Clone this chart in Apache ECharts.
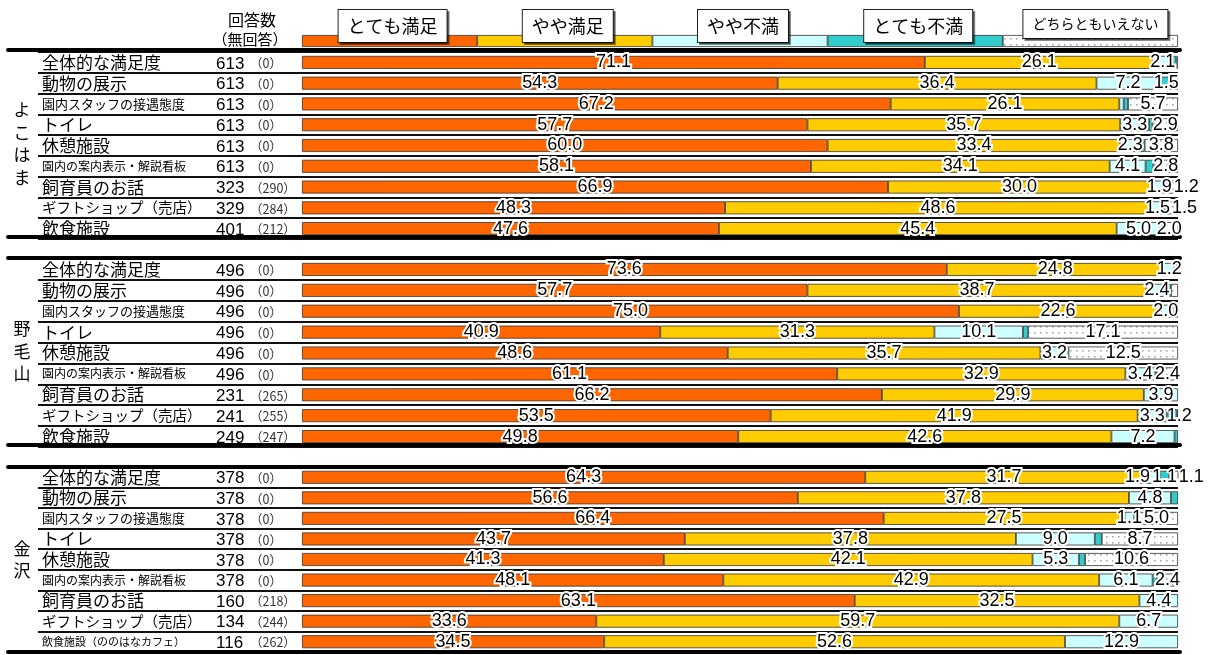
<!DOCTYPE html>
<html><head><meta charset="utf-8">
<script src="https://cdn.jsdelivr.net/npm/echarts@6/dist/echarts.min.js"></script>
<style>html,body{margin:0;padding:0;background:#fff}#c{width:1214px;height:655px}</style>
</head><body><div id="c"></div>
<script>
// ---------- DATA ----------
const seriesNames = ['とても満足', 'やや満足', 'やや不満', 'とても不満', 'どちらともいえない'];
const legendShares = [20, 20, 20, 20, 20];
const groupNames = ['よこはま', '野毛山', '金沢'];
const headerLines = ['回答数', '（無回答）'];

const itemsYokohama = ['全体的な満足度', '動物の展示', '園内スタッフの接遇態度', 'トイレ', '休憩施設', '園内の案内表示・解説看板', '飼育員のお話', 'ギフトショップ（売店）', '飲食施設'];
const itemsNogeyama = ['全体的な満足度', '動物の展示', '園内スタッフの接遇態度', 'トイレ', '休憩施設', '園内の案内表示・解説看板', '飼育員のお話', 'ギフトショップ（売店）', '飲食施設'];
const itemsKanazawa = ['全体的な満足度', '動物の展示', '園内スタッフの接遇態度', 'トイレ', '休憩施設', '園内の案内表示・解説看板', '飼育員のお話', 'ギフトショップ（売店）', '飲食施設（ののはなカフェ）'];

const countsYokohama = [613, 613, 613, 613, 613, 613, 323, 329, 401];
const noAnswerYokohama = [0, 0, 0, 0, 0, 0, 290, 284, 212];
const countsNogeyama = [496, 496, 496, 496, 496, 496, 231, 241, 249];
const noAnswerNogeyama = [0, 0, 0, 0, 0, 0, 265, 255, 247];
const countsKanazawa = [378, 378, 378, 378, 378, 378, 160, 134, 116];
const noAnswerKanazawa = [0, 0, 0, 0, 0, 0, 218, 244, 262];

const verySatisfiedYokohama = [71.1, 54.3, 67.2, 57.7, 60.0, 58.1, 66.9, 48.3, 47.6];
const satisfiedYokohama     = [26.1, 36.4, 26.1, 35.7, 33.4, 34.1, 30.0, 48.6, 45.4];
const dissatisfiedYokohama  = [2.1, 7.2, 0.5, 3.3, 2.3, 4.1, 1.9, 1.5, 5.0];
const veryDissatYokohama    = [0.5, 1.5, 0.5, 0.4, 0.5, 0.9, 0, 0.1, 0];
const neitherYokohama       = [0.2, 0.6, 5.7, 2.9, 3.8, 2.8, 1.2, 1.5, 2.0];

const verySatisfiedNogeyama = [73.6, 57.7, 75.0, 40.9, 48.6, 61.1, 66.2, 53.5, 49.8];
const satisfiedNogeyama     = [24.8, 38.7, 22.6, 31.3, 35.7, 32.9, 29.9, 41.9, 42.6];
const dissatisfiedNogeyama  = [1.2, 2.4, 2.0, 10.1, 3.2, 3.4, 3.9, 3.3, 7.2];
const veryDissatNogeyama    = [0.2, 0.4, 0, 0.6, 0, 0.2, 0, 1.2, 0.4];
const neitherNogeyama       = [0.2, 0.8, 0.4, 17.1, 12.5, 2.4, 0, 0.1, 0];

const verySatisfiedKanazawa = [64.3, 56.6, 66.4, 43.7, 41.3, 48.1, 63.1, 33.6, 34.5];
const satisfiedKanazawa     = [31.7, 37.8, 27.5, 37.8, 42.1, 42.9, 32.5, 59.7, 52.6];
const dissatisfiedKanazawa  = [1.9, 4.8, 1.1, 9.0, 5.3, 6.1, 4.4, 6.7, 12.9];
const veryDissatKanazawa    = [1.1, 0.8, 0, 0.8, 0.7, 0.5, 0, 0, 0];
const neitherKanazawa       = [1.1, 0, 5.0, 8.7, 10.6, 2.4, 0, 0, 0];

// ---------- LAYOUT / STYLE ----------
const groups = [
  { name: groupNames[0], items: itemsYokohama, counts: countsYokohama, noAns: noAnswerYokohama,
    values: [verySatisfiedYokohama, satisfiedYokohama, dissatisfiedYokohama, veryDissatYokohama, neitherYokohama] },
  { name: groupNames[1], items: itemsNogeyama, counts: countsNogeyama, noAns: noAnswerNogeyama,
    values: [verySatisfiedNogeyama, satisfiedNogeyama, dissatisfiedNogeyama, veryDissatNogeyama, neitherNogeyama] },
  { name: groupNames[2], items: itemsKanazawa, counts: countsKanazawa, noAns: noAnswerKanazawa,
    values: [verySatisfiedKanazawa, satisfiedKanazawa, dissatisfiedKanazawa, veryDissatKanazawa, neitherKanazawa] }
];
const layout = [
  { top: 52, h: 187, lineTop: 50, lineH: 187 },
  { top: 259, h: 188, lineTop: 258, lineH: 187 },
  { top: 467, h: 185, lineTop: 467, lineH: 185 }
];
const PLOT_LEFT = 302, PLOT_W = 876, LABEL_LEFT = 38, OUTER_LEFT = 8, OUTER_RIGHT = 1180;
const CJK = '"Noto Sans CJK JP", sans-serif';
const NUM = '"Liberation Sans", Arial, sans-serif';
const LABEL_SIZE = 18;

const pc = document.createElement('canvas');
pc.width = 6; pc.height = 6;
const pg = pc.getContext('2d');
pg.fillStyle = '#ffffff'; pg.fillRect(0, 0, 6, 6);
pg.fillStyle = '#a8a8a8'; pg.fillRect(2, 2, 1.6, 1.6);
const colors = ['#FF6600', '#FFCC00', '#CCFFFF', '#33CCCC', { image: pc, repeat: 'repeat' }];

const nameStyleKey = {
  '園内スタッフの接遇態度': 's13',
  '園内の案内表示・解説看板': 's12',
  'ギフトショップ（売店）': 's14',
  '飲食施設（ののはなカフェ）': 's11'
};

const mctx = document.createElement('canvas').getContext('2d');
mctx.font = LABEL_SIZE + 'px ' + NUM;
function textW(t) { return mctx.measureText(t).width; }

// label de-overlap within a row (pixel offsets)
function rowOffsets(vals) {
  let cum = 0; const labs = [];
  vals.forEach((v, k) => {
    if (v >= 1) { const c = (cum + v / 2) / 100 * PLOT_W; labs.push({ k, nat: c, c, w: textW(v.toFixed(1)) }); }
    cum += v;
  });
  for (let i = 1; i < labs.length; i++) {
    const m = labs[i - 1].c + (labs[i - 1].w + labs[i].w) / 2 + 2;
    if (labs[i].c < m) labs[i].c = m;
  }
  for (let i = labs.length - 1; i >= 0; i--) {
    const lim = i === labs.length - 1 ? (1204 - PLOT_LEFT) - labs[i].w / 2
      : labs[i + 1].c - (labs[i].w + labs[i + 1].w) / 2 - 2;
    if (labs[i].c > lim) labs[i].c = lim;
  }
  const off = [0, 0, 0, 0, 0];
  labs.forEach(l => { off[l.k] = l.c - l.nat; });
  return off;
}

const grid = [], xAxis = [], yAxis = [], series = [], graphic = [];

// legend strip grid (index 0)
grid.push({ left: PLOT_LEFT, width: PLOT_W, top: 35, height: 12 });
xAxis.push({ gridIndex: 0, type: 'value', min: 0, max: 100, show: false });
yAxis.push({ gridIndex: 0, type: 'category', data: ['凡例'], show: false });
seriesNames.forEach((nm, k) => {
  const small = nm.length > 6;
  series.push({
    name: nm, type: 'bar', xAxisIndex: 0, yAxisIndex: 0, stack: 'legend', barWidth: 12,
    itemStyle: { color: colors[k], borderColor: '#333', borderWidth: 0.8 },
    label: {
      show: true, position: 'inside', formatter: nm, offset: [small ? 5 : 3, small ? -17 : -15],
      fontFamily: CJK, fontSize: small ? 14 : 18, lineHeight: small ? 20 : 24, color: '#000',
      backgroundColor: '#fff', borderColor: '#222', borderWidth: 1, padding: [4, 9],
      shadowColor: 'rgba(0,0,0,0.45)', shadowOffsetX: 2, shadowOffsetY: 2, shadowBlur: 0
    },
    data: [legendShares[k]], silent: true
  });
});

groups.forEach((g, gi) => {
  const L = layout[gi];
  const bi = 1 + gi, li = 4 + gi, oi = 7 + gi;
  grid[bi] = { left: PLOT_LEFT, width: PLOT_W, top: L.top, height: L.h };
  grid[li] = { left: LABEL_LEFT, width: PLOT_LEFT - LABEL_LEFT, top: L.top, height: L.h };
  grid[oi] = { left: OUTER_LEFT, width: OUTER_RIGHT - OUTER_LEFT, top: L.lineTop, height: L.lineH };

  xAxis[bi] = { gridIndex: bi, type: 'value', min: 0, max: 100, show: false };
  yAxis[bi] = { gridIndex: bi, type: 'category', data: g.items, inverse: true,
    axisLine: { show: false }, axisTick: { show: false }, axisLabel: { show: false },
    splitLine: { show: true, interval: 0, lineStyle: { color: '#111', width: 2 } } };

  xAxis[li] = { gridIndex: li, type: 'value', min: 0, max: 1, show: false };
  const richBase = { width: 174, color: '#000', fontFamily: CJK };
  yAxis[li] = { gridIndex: li, type: 'category', data: g.items, inverse: true,
    axisLine: { show: false }, axisTick: { show: false },
    splitLine: { show: true, interval: 0, lineStyle: { color: '#111', width: 2 } },
    axisLabel: {
      inside: true, margin: 4, interval: 0,
      formatter: (val, idx) => {
        const key = nameStyleKey[val] || 'n';
        return '{' + key + '|' + val + '}{c|' + g.counts[idx] + '}{p|（' + g.noAns[idx] + '）}';
      },
      rich: {
        n: Object.assign({}, richBase, { fontSize: 17 }),
        s13: Object.assign({}, richBase, { fontSize: 13 }),
        s12: Object.assign({}, richBase, { fontSize: 12 }),
        s14: Object.assign({}, richBase, { fontSize: 14.5 }),
        s11: Object.assign({}, richBase, { fontSize: 11 }),
        c: { width: 34, fontSize: 17, fontFamily: NUM, color: '#000', padding: [3, 0, 0, 0] },
        p: { fontSize: 12.5, fontFamily: CJK, color: '#333', padding: [2, 0, 0, 0] }
      }
    } };

  xAxis[oi] = { gridIndex: oi, type: 'value', min: 0, max: 1, position: 'top',
    axisLine: { show: true, onZero: false, lineStyle: { color: '#000', width: 4 } },
    axisTick: { show: false }, axisLabel: { show: false }, splitLine: { show: false } };
  yAxis[oi] = { gridIndex: oi, type: 'value', min: 0, max: 1, show: false };

  const offs = g.items.map((_, i) => rowOffsets(g.values.map(arr => arr[i])));

  g.values.forEach((arr, k) => {
    series.push({
      name: seriesNames[k], type: 'bar', xAxisIndex: bi, yAxisIndex: bi, stack: 'grp' + gi, barWidth: 13,
      itemStyle: { color: colors[k], borderColor: '#333', borderWidth: 0.8 },
      label: {
        show: true, position: 'inside',
        formatter: p => (p.value >= 1 ? Number(p.value).toFixed(1) : ''),
        fontFamily: NUM, fontSize: LABEL_SIZE, color: '#000',
        textBorderColor: '#fff', textBorderWidth: 4
      },
      labelLayout: params => ({ dx: offs[params.dataIndex][k], hideOverlap: false }),
      data: arr.map(v => (v === 0 ? null : v)),
      silent: true
    });
  });

  graphic.push({
    type: 'text', x: 22, y: L.lineTop + L.lineH / 2,
    style: { text: g.name.split('').join('\n'), font: '17px ' + CJK, fill: '#000',
      textAlign: 'center', textVerticalAlign: 'middle', lineHeight: 22.5 }
  });
});

groups.forEach((g, gi) => {
  xAxis.push({ gridIndex: 7 + gi, type: 'value', min: 0, max: 1, position: 'bottom',
    axisLine: { show: true, onZero: false, lineStyle: { color: '#000', width: 4 } },
    axisTick: { show: false }, axisLabel: { show: false }, splitLine: { show: false } });
});

graphic.push({ type: 'text', x: 252, y: 20,
  style: { text: headerLines[0], font: '16px ' + CJK, fill: '#000', textAlign: 'center', textVerticalAlign: 'middle' } });
graphic.push({ type: 'text', x: 250, y: 39,
  style: { text: headerLines[1], font: '15px ' + CJK, fill: '#000', textAlign: 'center', textVerticalAlign: 'middle' } });

const chart = echarts.init(document.getElementById('c'), null, { renderer: 'canvas' });
chart.setOption({
  animation: false,
  backgroundColor: '#fff',
  grid, xAxis, yAxis, series, graphic
});
</script>
</body></html>
